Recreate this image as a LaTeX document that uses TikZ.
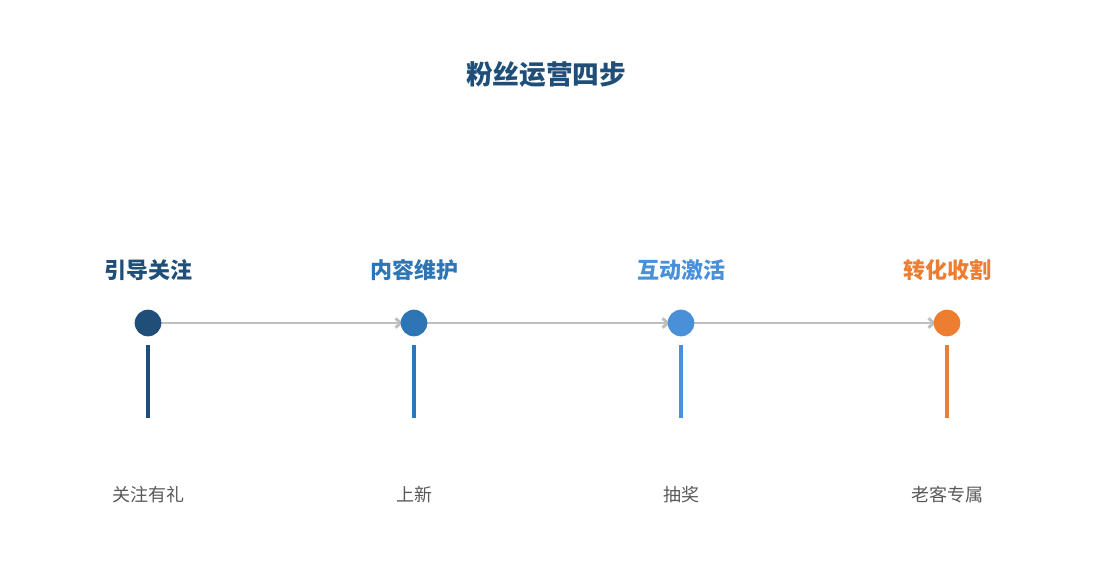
\documentclass[tikz,border=0pt]{standalone}
\usepackage{fontspec}
\setmainfont{Noto Sans CJK SC}
\usetikzlibrary{arrows.meta}
\definecolor{c1}{HTML}{1F4E79}
\definecolor{c2}{HTML}{2E75B6}
\definecolor{c3}{HTML}{4A90D9}
\definecolor{c4}{HTML}{ED7D31}
\definecolor{gl}{HTML}{BFBFBF}
\definecolor{tx}{HTML}{595959}
\begin{document}
\begin{tikzpicture}[x=0.75pt,y=-0.75pt,
  dot/.style={circle,fill=#1,minimum size=20pt,inner sep=0pt},
  head/.style={text=#1,font=\fontsize{16.5}{18}\selectfont\bfseries},
  lab/.style={text=tx,font=\fontsize{13.5}{15}\selectfont},
  stem/.style={draw=#1,line width=3pt},
  link/.style={draw=gl,line width=2.2pt,-{Straight Barb[length=4pt,width=7pt]}}]
\useasboundingbox (0,0) rectangle (1095,585);
\node[text=c1,font=\fontsize{20}{24}\selectfont\bfseries] (t) at (546,75) {粉丝运营四步};
\foreach \i/\x/\c/\h/\l in {1/148/c1/引导关注/关注有礼,2/414/c2/内容维护/上新/优惠/内容,3/681/c3/互动激活/抽奖/投票,4/947/c4/转化收割/老客专属}{
  \node[head=\c] (h\i) at (\x,270) {\h};
  \coordinate (s\i) at (\x,345);
  \coordinate (e\i) at (\x,418);
  \draw[stem=\c] (s\i) -- (e\i);
  \node[lab] (l\i) at (\x,495) {\l};
}
\draw[link] (148,323) -- (403,323);
\draw[link] (414,323) -- (670,323);
\draw[link] (681,323) -- (936,323);
\foreach \i/\x/\c in {1/148/c1,2/414/c2,3/681/c3,4/947/c4}
  \node[dot=\c] (d\i) at (\x,323) {};
\end{tikzpicture}
\end{document}
